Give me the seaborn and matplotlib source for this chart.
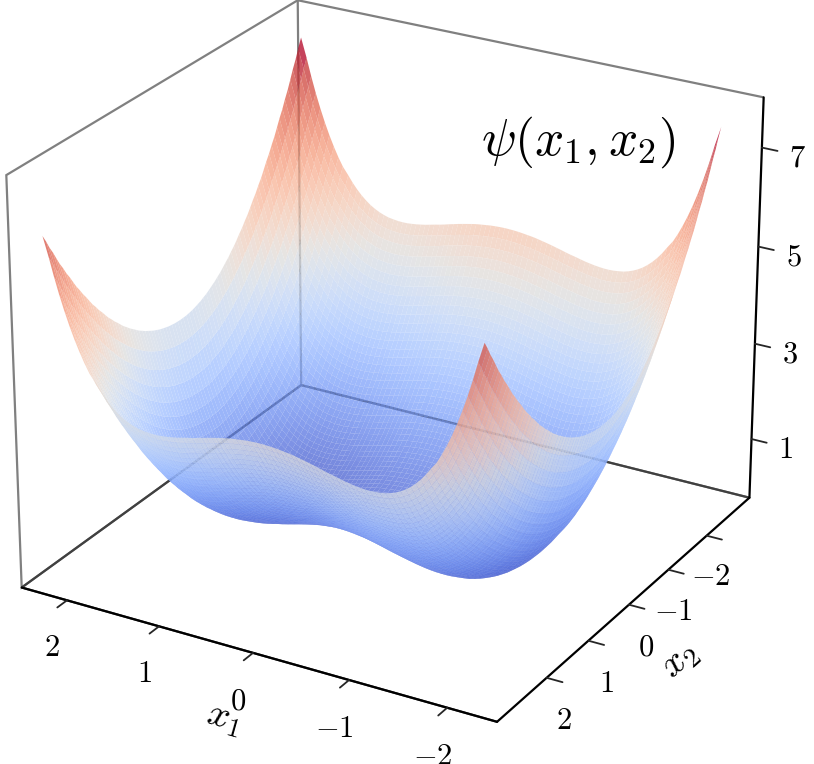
import numpy as np
import matplotlib
matplotlib.use("Agg")
import matplotlib.pyplot as plt
import seaborn as sns

# heights, from the centre outwards along each axis
x1_half = [0.0, 0.05, 0.1, 0.15, 0.2, 0.25, 0.31, 0.36, 0.41, 0.46, 0.51, 0.56, 0.61, 0.66, 0.71, 0.77,
           0.82, 0.87, 0.92, 0.97, 1.02, 1.07, 1.12, 1.17, 1.22, 1.28, 1.33, 1.38, 1.43, 1.48, 1.53, 1.58,
           1.63, 1.68, 1.73, 1.79, 1.84, 1.89, 1.94, 1.99, 2.04, 2.09, 2.14, 2.19, 2.25]
x2_half = [0.0, 0.06, 0.13, 0.19, 0.26, 0.32, 0.38, 0.45, 0.51, 0.58, 0.64, 0.7, 0.77, 0.83, 0.9, 0.96,
           1.02, 1.09, 1.15, 1.22, 1.28, 1.34, 1.41, 1.47, 1.54, 1.6, 1.66, 1.73, 1.79, 1.86, 1.92, 1.98,
           2.05, 2.11, 2.18, 2.24, 2.3, 2.37, 2.43, 2.5, 2.56, 2.62, 2.69, 2.75, 2.82]
x2_centre = 0.12
x1_profile = [.368, .366, .361, .354, .343, .330, .315, .296, .275, .254, .231, .206, .181, .154, .129,
              .104, .080, .057, .039, .023, .011, .002, 0, .004, .015, .033, .062, .099, .147, .207,
              .282, .369, .472, .591, .729, .885, 1.061, 1.261, 1.482, 1.728, 2.001, 2.299, 2.628,
              2.988, 3.380]
x2_neg_profile = [0, .003, .008, .019, .035, .054, .078, .105, .139, .175, .216, .262, .312, .365, .425,
                  .487, .553, .624, .701, .781, .865, .954, 1.046, 1.144, 1.246, 1.352, 1.462, 1.576,
                  1.695, 1.818, 1.947, 2.079, 2.215, 2.354, 2.500, 2.650, 2.803, 2.959, 3.122, 3.290,
                  3.460, 3.635, 3.814, 3.998, 4.186]
x2_pos_profile = [0, .002, .007, .016, .028, .045, .064, .086, .113, .144, .178, .214, .255, .299, .347,
                  .399, .453, .511, .573, .639, .708, .781, .857, .936, 1.019, 1.107, 1.197, 1.290,
                  1.388, 1.489, 1.594, 1.701, 1.813, 1.927, 2.047, 2.169, 2.294, 2.423, 2.556, 2.693,
                  2.832, 2.976, 3.122, 3.273, 3.427]
x1_ticks = [-2, -1, 0, 1, 2]
x2_ticks = [-2, -1, 0, 1, 2]
z_ticks = [1, 3, 5, 7]

sns.set_theme(style="white")
plt.rcParams["mathtext.fontset"] = "cm"

grid1 = np.r_[-np.array(x1_half[:0:-1]), x1_half]
grid2 = np.r_[-np.array(x2_half[:0:-1]), x2_half] + x2_centre
p1 = np.r_[x1_profile[:0:-1], x1_profile]
p2 = np.r_[x2_neg_profile[:0:-1], x2_pos_profile]
X1, X2 = np.meshgrid(grid1, grid2, indexing="ij")
Z = np.add.outer(p1, p2)

fig = plt.figure(figsize=(8.14, 7.64), dpi=100)
ax = fig.add_axes([-25 / 814, 29 / 764, 1, 1], projection="3d")
ax.view_init(elev=25, azim=120)
ax.set_proj_type("persp", focal_length=1.15)
ax.set_box_aspect((4, 4, 3.3), zoom=1.13)

cmap = sns.color_palette("coolwarm", as_cmap=True)
ax.plot_surface(X1, X2, Z, cmap=cmap, rstride=1, cstride=1, linewidth=0, antialiased=True, alpha=0.75)

ax.set_xlim(-2.5, 2.5)
ax.set_ylim(-3.15, 3.15)
ax.set_zlim(-0.25, 8)
ax.grid(False)

ax.set_xticks(x1_ticks, [f"${t}$" for t in x1_ticks], fontsize=22, color="black")
ax.set_yticks(x2_ticks, [f"${t}$" for t in x2_ticks], fontsize=22, color="black", ha="right", va="top")
ax.set_zticks(z_ticks, [f"${t}$" for t in z_ticks], fontsize=22, color="black")
ax.set_xlabel(r"$x_{\mathit{1}}$", fontsize=28, labelpad=8, color="black")
ax.set_ylabel(r"$x_2$", fontsize=28, labelpad=9, color="black")

for axis in (ax.xaxis, ax.yaxis, ax.zaxis):
    axis.line.set_color("black")
    axis.line.set_linewidth(1.6)
    axis._axinfo["tick"].update(inward_factor=0.4, outward_factor=0, linewidth={True: 1.3, False: 1.0}, color="black")
    axis.pane.set_alpha(None)
    axis.pane.set_facecolor((1, 1, 1, 0))
    axis.pane.set_linewidth(1.6)
ax.xaxis.pane.set_edgecolor("#808080")
ax.yaxis.pane.set_edgecolor("#808080")
ax.zaxis.pane.set_edgecolor("#404040")
ax.tick_params(axis="x", pad=7)
ax.tick_params(axis="y", pad=7)
ax.tick_params(axis="z", pad=6)

fig.text(578 / 814, 1 - 142 / 764, r"$\psi(x_1, x_2)$", fontsize=37, ha="center", va="center", color="black")

fig.savefig("out.png", dpi=100)
plt.close(fig)
